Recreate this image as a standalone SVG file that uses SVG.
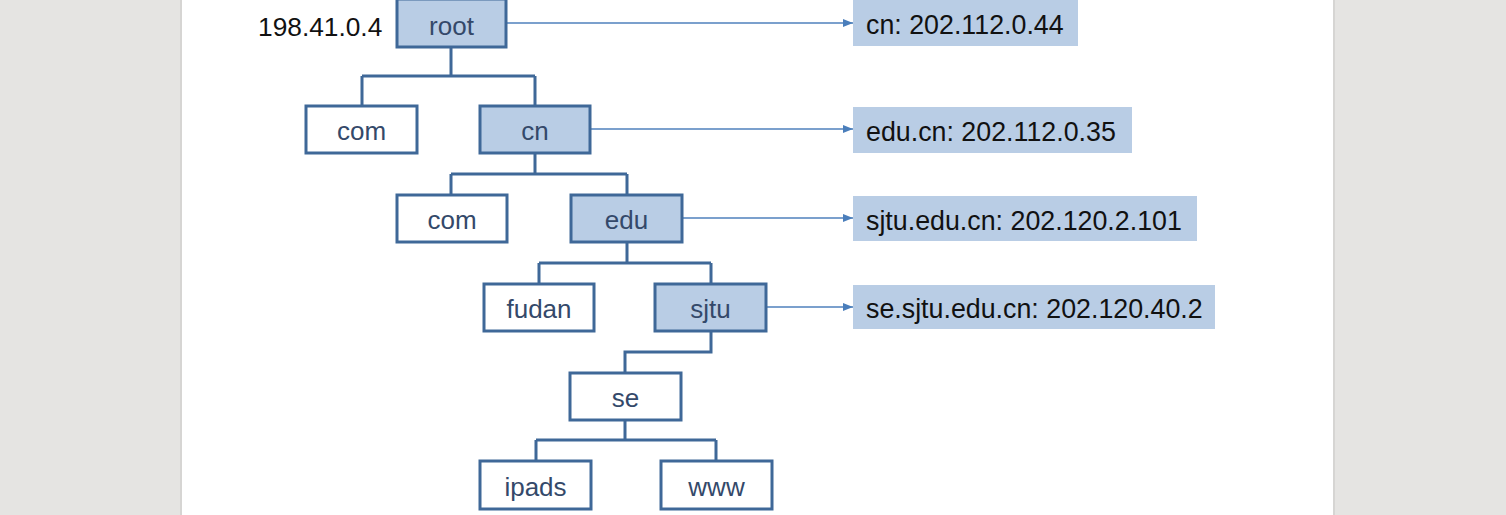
<svg xmlns="http://www.w3.org/2000/svg" width="1506" height="515" viewBox="0 0 1506 515">
<defs>
<marker id="arr" markerWidth="11" markerHeight="10" refX="10" refY="5" orient="auto" markerUnits="userSpaceOnUse">
<path d="M0,1 L10,5 L0,9 Z" fill="#4a7ebb"/>
</marker>
</defs>
<style>
.node rect{stroke:#3f6898;stroke-width:3;}
.plain rect{fill:#ffffff;}
.shade rect{fill:#b9cde5;}
.node text{font-family:"Liberation Sans",Arial,sans-serif;font-size:26px;fill:#34496a;text-anchor:middle;}
.call rect{fill:#b9cde5;}
.call text{font-family:"Liberation Sans",Arial,sans-serif;font-size:26.8px;fill:#111111;}
.tree path{fill:none;stroke:#3f6898;stroke-width:3;}
.arrows line{stroke:#4f81bd;stroke-width:1.5;marker-end:url(#arr);}
.lbl{font-family:"Liberation Sans",Arial,sans-serif;font-size:26.3px;fill:#111111;}
</style>
<rect x="0" y="0" width="1506" height="515" fill="#e5e4e2"/>
<rect x="180" y="0" width="2" height="515" fill="#d6d5d3"/>
<rect x="1333" y="0" width="2" height="515" fill="#d6d5d3"/>
<rect x="182" y="0" width="1151" height="515" fill="#ffffff"/>

<g id="connectors">
<g class="tree">
<path d="M451,47 V76 M362,76 H535 M362,76 V106 M535,76 V106"/>
<path d="M535,153 V174 M451,174 H627 M451,174 V195 M627,174 V195"/>
<path d="M627,242 V263 M539,263 H711 M539,263 V284 M711,263 V284"/>
<path d="M711,331 V352 H625 V373"/>
<path d="M625,420 V440 M536,440 H716 M536,440 V461 M716,440 V461"/>
</g>
<g class="arrows">
<line x1="507" y1="23" x2="853" y2="23"/>
<line x1="591" y1="129" x2="853" y2="129"/>
<line x1="683" y1="218" x2="853" y2="218"/>
<line x1="767" y1="307" x2="853" y2="307"/>
</g>
</g>

<text class="lbl" x="258" y="36">198.41.0.4</text>

<g id="root" class="node shade"><rect x="397" y="-1" width="109" height="48"/><text x="451.5" y="35">root</text></g>
<g id="com1" class="node plain"><rect x="306" y="106" width="111" height="47"/><text x="361.5" y="140">com</text></g>
<g id="cn" class="node shade"><rect x="480" y="106" width="110" height="47"/><text x="535" y="140">cn</text></g>
<g id="com2" class="node plain"><rect x="397" y="195" width="110" height="47"/><text x="452" y="229">com</text></g>
<g id="edu" class="node shade"><rect x="571" y="195" width="111" height="47"/><text x="626.5" y="229">edu</text></g>
<g id="fudan" class="node plain"><rect x="484" y="284" width="110" height="47"/><text x="539" y="318">fudan</text></g>
<g id="sjtu" class="node shade"><rect x="655" y="284" width="111" height="47"/><text x="710.5" y="318">sjtu</text></g>
<g id="se" class="node plain"><rect x="570" y="373" width="111" height="47"/><text x="625.5" y="407">se</text></g>
<g id="ipads" class="node plain"><rect x="480" y="461" width="111" height="48"/><text x="535.5" y="496">ipads</text></g>
<g id="www" class="node plain"><rect x="661" y="461" width="111" height="48"/><text x="716.5" y="496">www</text></g>

<g id="call-cn" class="call"><rect x="853" y="0" width="225" height="46"/><text x="866" y="34">cn: 202.112.0.44</text></g>
<g id="call-edu" class="call"><rect x="853" y="107" width="279" height="46"/><text x="866" y="141">edu.cn: 202.112.0.35</text></g>
<g id="call-sjtu" class="call"><rect x="853" y="196" width="344" height="45"/><text x="866" y="230">sjtu.edu.cn: 202.120.2.101</text></g>
<g id="call-se" class="call"><rect x="853" y="285" width="362" height="44"/><text x="866" y="318">se.sjtu.edu.cn: 202.120.40.2</text></g>
</svg>
